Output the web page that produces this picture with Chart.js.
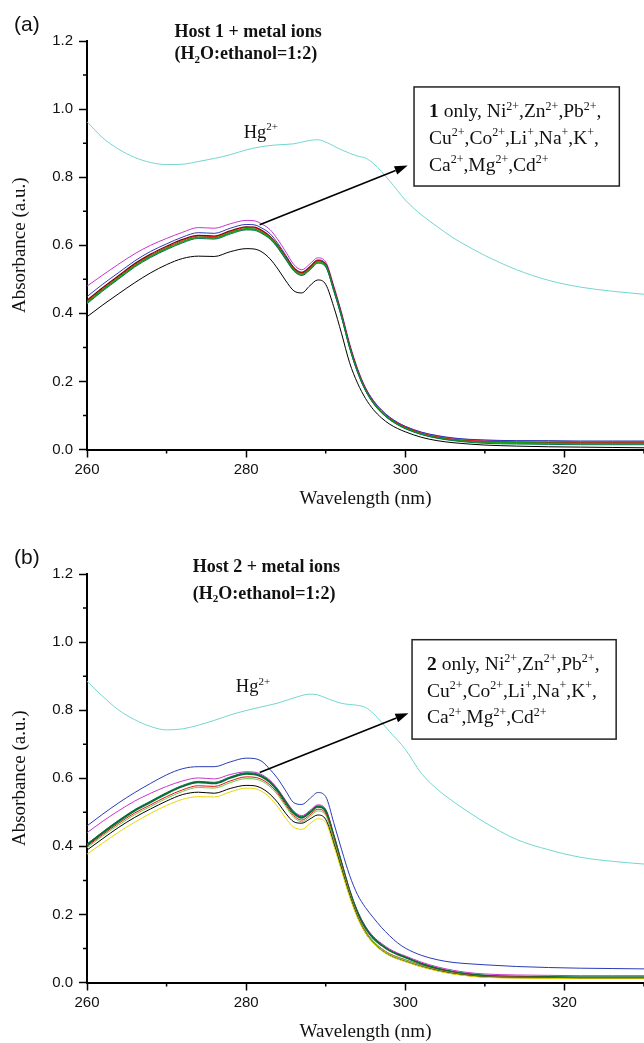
<!DOCTYPE html>
<html>
<head>
<meta charset="utf-8">
<script src="https://cdn.jsdelivr.net/npm/chart.js@4.4.1/dist/chart.umd.min.js"></script>
<style>
  html, body { margin: 0; padding: 0; background: #fff; overflow: hidden; width: 644px; height: 1043px; }
  canvas { position: absolute; left: 0; }
</style>
</head>
<body>
<canvas id="chartA" width="644" height="510" style="top:0px"></canvas>
<canvas id="chartB" width="644" height="510" style="top:533px"></canvas>
<script>
// ---------- DATA ----------
const wavelengths = [260,262,264,266,268,270,272,274,276,278,280,281,282,283,284,285,286,287,288,289,290,291,292,293,294,295,296,297,298,299,300,302,304,306,308,310,314,318,322,326,330];
const hgWavelengths = [260,262,264,266,268,270,272,274,276,278,280,282,284,286,288,289,290,292,294,295,296,298,300,302,304,306,308,310,314,318,322,326,330];

// Panel (a): Host 1
const hgA      = [0.963,0.915,0.882,0.858,0.843,0.837,0.838,0.846,0.855,0.866,0.880,0.890,0.895,0.898,0.908,0.910,0.903,0.880,0.862,0.856,0.840,0.790,0.733,0.690,0.655,0.622,0.595,0.570,0.528,0.497,0.477,0.465,0.456];
const magentaA = [0.480,0.513,0.545,0.575,0.600,0.620,0.638,0.652,0.650,0.663,0.673,0.672,0.662,0.646,0.616,0.580,0.543,0.528,0.545,0.563,0.551,0.482,0.402,0.312,0.238,0.182,0.144,0.117,0.096,0.080,0.068,0.051,0.040,0.033,0.029,0.027,0.025,0.024,0.023,0.023,0.023];
const blueA    = [0.449,0.486,0.520,0.554,0.582,0.604,0.624,0.637,0.635,0.650,0.661,0.660,0.650,0.634,0.605,0.570,0.535,0.521,0.538,0.557,0.546,0.477,0.397,0.307,0.235,0.180,0.143,0.116,0.095,0.080,0.068,0.051,0.041,0.034,0.030,0.028,0.026,0.026,0.025,0.025,0.025];
const redA     = [0.435,0.473,0.508,0.543,0.571,0.594,0.614,0.627,0.625,0.640,0.652,0.651,0.641,0.625,0.598,0.564,0.531,0.518,0.534,0.554,0.543,0.473,0.393,0.303,0.231,0.177,0.139,0.112,0.092,0.077,0.065,0.048,0.037,0.030,0.026,0.024,0.022,0.021,0.020,0.020,0.020];
const darkRedA = [0.438,0.476,0.511,0.546,0.574,0.597,0.617,0.629,0.627,0.642,0.654,0.653,0.643,0.626,0.599,0.565,0.532,0.519,0.535,0.555,0.544,0.474,0.394,0.304,0.231,0.176,0.138,0.111,0.091,0.076,0.064,0.047,0.036,0.029,0.025,0.023,0.021,0.020,0.019,0.019,0.019];
const greenA   = [0.432,0.470,0.505,0.540,0.568,0.591,0.611,0.624,0.622,0.637,0.649,0.648,0.638,0.622,0.595,0.561,0.528,0.515,0.531,0.551,0.540,0.470,0.390,0.300,0.228,0.174,0.137,0.110,0.090,0.075,0.063,0.046,0.035,0.028,0.024,0.022,0.020,0.019,0.018,0.018,0.018];
const tealA    = [0.428,0.466,0.501,0.536,0.564,0.587,0.607,0.620,0.618,0.633,0.645,0.644,0.634,0.618,0.591,0.557,0.524,0.511,0.527,0.547,0.536,0.467,0.388,0.299,0.227,0.173,0.135,0.108,0.088,0.073,0.061,0.044,0.033,0.026,0.021,0.018,0.016,0.015,0.014,0.014,0.014];
const oliveA   = [0.430,0.468,0.503,0.538,0.566,0.589,0.609,0.622,0.620,0.635,0.647,0.646,0.636,0.620,0.593,0.559,0.526,0.513,0.529,0.549,0.538,0.468,0.389,0.300,0.228,0.174,0.136,0.109,0.089,0.074,0.062,0.045,0.034,0.027,0.023,0.020,0.018,0.017,0.016,0.016,0.016];
const blackA   = [0.390,0.425,0.458,0.490,0.519,0.543,0.561,0.568,0.567,0.581,0.590,0.589,0.580,0.560,0.530,0.495,0.466,0.460,0.481,0.498,0.485,0.420,0.340,0.255,0.195,0.150,0.117,0.093,0.075,0.062,0.052,0.036,0.026,0.020,0.016,0.013,0.010,0.008,0.007,0.006,0.005];

// Panel (b): Host 2
const hgB        = [0.885,0.840,0.800,0.772,0.752,0.742,0.745,0.756,0.770,0.786,0.799,0.810,0.821,0.836,0.847,0.845,0.836,0.820,0.814,0.808,0.790,0.738,0.685,0.615,0.568,0.532,0.500,0.470,0.420,0.390,0.368,0.356,0.348];
const blueB      = [0.460,0.495,0.528,0.558,0.585,0.610,0.628,0.634,0.634,0.648,0.659,0.658,0.649,0.626,0.598,0.562,0.528,0.523,0.540,0.558,0.546,0.470,0.390,0.315,0.258,0.220,0.190,0.162,0.138,0.117,0.101,0.080,0.067,0.059,0.055,0.052,0.047,0.044,0.042,0.041,0.040];
const magentaB   = [0.440,0.474,0.505,0.533,0.556,0.576,0.592,0.601,0.598,0.611,0.619,0.618,0.610,0.594,0.568,0.534,0.503,0.490,0.505,0.522,0.509,0.436,0.354,0.274,0.210,0.165,0.135,0.115,0.099,0.087,0.078,0.060,0.046,0.036,0.029,0.025,0.022,0.021,0.020,0.020,0.020];
const tealB      = [0.407,0.443,0.477,0.508,0.533,0.558,0.579,0.591,0.588,0.604,0.616,0.615,0.607,0.591,0.565,0.531,0.500,0.487,0.502,0.519,0.506,0.433,0.351,0.270,0.207,0.162,0.131,0.111,0.095,0.084,0.075,0.056,0.042,0.032,0.025,0.021,0.018,0.017,0.016,0.016,0.016];
const darkGreenB = [0.404,0.440,0.474,0.505,0.530,0.555,0.576,0.588,0.585,0.601,0.613,0.612,0.604,0.588,0.562,0.528,0.497,0.484,0.499,0.516,0.503,0.430,0.348,0.268,0.205,0.160,0.130,0.110,0.094,0.083,0.074,0.055,0.041,0.031,0.024,0.020,0.017,0.016,0.015,0.015,0.015];
const redB       = [0.400,0.435,0.468,0.498,0.522,0.546,0.566,0.578,0.576,0.592,0.604,0.603,0.596,0.580,0.555,0.521,0.490,0.477,0.492,0.509,0.496,0.424,0.343,0.264,0.198,0.151,0.121,0.100,0.085,0.075,0.067,0.051,0.038,0.029,0.022,0.018,0.016,0.015,0.014,0.014,0.014];
const lightGreenB= [0.396,0.431,0.463,0.493,0.517,0.541,0.561,0.573,0.571,0.587,0.599,0.598,0.591,0.575,0.550,0.516,0.485,0.472,0.487,0.504,0.491,0.420,0.340,0.262,0.197,0.150,0.120,0.099,0.084,0.074,0.066,0.050,0.037,0.028,0.021,0.017,0.015,0.014,0.013,0.013,0.013];
const blackB     = [0.389,0.423,0.456,0.485,0.510,0.533,0.552,0.559,0.556,0.570,0.579,0.578,0.570,0.553,0.528,0.496,0.472,0.468,0.480,0.492,0.479,0.410,0.332,0.256,0.192,0.146,0.116,0.095,0.080,0.070,0.062,0.047,0.035,0.026,0.020,0.016,0.014,0.013,0.012,0.012,0.012];
const yellowB    = [0.377,0.410,0.442,0.471,0.497,0.520,0.538,0.546,0.545,0.560,0.571,0.570,0.561,0.543,0.515,0.482,0.456,0.450,0.466,0.481,0.470,0.403,0.327,0.252,0.190,0.145,0.115,0.094,0.079,0.069,0.061,0.046,0.034,0.025,0.019,0.015,0.013,0.012,0.011,0.011,0.011];

// Axis ticks
const xMajorTicks = [260, 280, 300, 320];
const xMinorTicks = [270, 290, 310, 330];
const yMinorTicks = [0.1, 0.3, 0.5, 0.7, 0.9, 1.1];

// ---------- BUILD ----------
const SERIF = '"Liberation Serif", "Times New Roman", serif';
const SANS = '"Liberation Sans", Arial, sans-serif';

function pts(xs, ys) { return xs.map((x, i) => ({ x: x, y: ys[i] })); }
function ds(xs, ys, color, w) {
  return { data: pts(xs, ys), borderColor: color, borderWidth: w || 1, pointRadius: 0, fill: false, cubicInterpolationMode: 'monotone' };
}

function sup(t) { return { t: t, sup: true }; }
function bold(t) { return { t: t, b: true }; }
function txt(t) { return { t: t }; }

function drawRich(ctx, segs, x, y, size) {
  let cx = x;
  segs.forEach(s => {
    const small = s.sup || s.sub;
    const fs = small ? Math.round(size * 0.62) : size;
    ctx.font = (s.b ? 'bold ' : '') + fs + 'px ' + SERIF;
    const dy = s.sup ? -size * 0.40 : (s.sub ? size * 0.22 : 0);
    ctx.fillText(s.t, cx, y + dy);
    cx += ctx.measureText(s.t).width;
  });
  return cx;
}

function annotPlugin(cfg) {
  return {
    id: 'annot',
    afterDraw(chart) {
      const ctx = chart.ctx;
      const xs = chart.scales.x, ys = chart.scales.y;
      const area = chart.chartArea;
      const X = v => xs.getPixelForValue(v);
      const Y = v => ys.getPixelForValue(v);
      ctx.save();
      // minor ticks
      ctx.strokeStyle = '#000';
      ctx.lineWidth = 1.5;
      ctx.beginPath();
      xMinorTicks.forEach(v => { const p = X(v); ctx.moveTo(p, area.bottom); ctx.lineTo(p, area.bottom + 4); });
      yMinorTicks.forEach(v => { const p = Y(v); ctx.moveTo(area.left - 4, p); ctx.lineTo(area.left, p); });
      ctx.stroke();

      ctx.fillStyle = '#111';
      ctx.textBaseline = 'alphabetic';
      ctx.textAlign = 'left';
      // panel label
      ctx.font = '21px ' + SANS;
      ctx.fillText(cfg.panel, 14, 31);
      // title
      drawRich(ctx, cfg.title1, X(cfg.titleX), Y(cfg.title1Y), 18);
      drawRich(ctx, cfg.title2, X(cfg.titleX), Y(cfg.title2Y), 18);
      // Hg label
      drawRich(ctx, [txt('Hg'), sup('2+')], X(cfg.hgX), Y(cfg.hgY), 18.5);
      // arrow
      const x0 = X(cfg.arrow[0]), y0 = Y(cfg.arrow[1]), x1 = X(cfg.arrow[2]), y1 = Y(cfg.arrow[3]);
      const ang = Math.atan2(y1 - y0, x1 - x0);
      const hl = 13, hw = 4.5;
      ctx.strokeStyle = '#000';
      ctx.lineWidth = 1.6;
      ctx.beginPath();
      ctx.moveTo(x0, y0);
      ctx.lineTo(x1 - hl * Math.cos(ang), y1 - hl * Math.sin(ang));
      ctx.stroke();
      ctx.fillStyle = '#000';
      ctx.beginPath();
      ctx.moveTo(x1, y1);
      ctx.lineTo(x1 - hl * Math.cos(ang) + hw * Math.sin(ang), y1 - hl * Math.sin(ang) - hw * Math.cos(ang));
      ctx.lineTo(x1 - hl * Math.cos(ang) - hw * Math.sin(ang), y1 - hl * Math.sin(ang) + hw * Math.cos(ang));
      ctx.closePath();
      ctx.fill();
      // box
      const bl = X(cfg.box[0]), bt = Y(cfg.box[1]), br = X(cfg.box[2]), bb = Y(cfg.box[3]);
      ctx.fillStyle = '#fff';
      ctx.fillRect(bl, bt, br - bl, bb - bt);
      ctx.strokeStyle = '#222';
      ctx.lineWidth = 1.5;
      ctx.strokeRect(bl, bt, br - bl, bb - bt);
      ctx.fillStyle = '#111';
      cfg.boxLines.forEach((segs, i) => drawRich(ctx, segs, bl + 15, bt + 30.5 + i * 26.6, 19.5));
      ctx.restore();
    }
  };
}

const boxLines2 = [txt('Cu'), sup('2+'), txt(',Co'), sup('2+'), txt(',Li'), sup('+'), txt(',Na'), sup('+'), txt(',K'), sup('+'), txt(',')];
const boxLines3 = [txt('Ca'), sup('2+'), txt(',Mg'), sup('2+'), txt(',Cd'), sup('2+')];

function makeChart(id, datasets, cfg) {
  return new Chart(document.getElementById(id), {
    type: 'line',
    data: { datasets: datasets },
    options: {
      responsive: false,
      animation: false,
      devicePixelRatio: 1,
      layout: { padding: { top: 41, left: 0, right: 0, bottom: 0 } },
      plugins: { legend: { display: false }, tooltip: { enabled: false } },
      scales: {
        x: {
          type: 'linear', min: 260, max: 330,
          afterFit: s => { s.height = 60.5; },
          afterBuildTicks: s => { s.ticks = xMajorTicks.map(v => ({ value: v })); },
          ticks: { padding: 3, color: '#111', font: { family: SANS, size: 15 }, maxRotation: 0, autoSkip: false, callback: v => String(v) },
          grid: { drawOnChartArea: false, drawTicks: true, tickLength: 8, tickWidth: 1.5, tickColor: '#000' },
          border: { display: true, color: '#000', width: 2 },
          title: { display: true, text: 'Wavelength (nm)', color: '#111', font: { family: SERIF, size: 19, lineHeight: 1 }, padding: { top: 0, bottom: 1 } }
        },
        y: {
          min: 0, max: 1.2,
          afterFit: s => { s.width = 87; },
          ticks: { stepSize: 0.2, padding: 6, color: '#111', font: { family: SANS, size: 15 }, callback: v => Number(v).toFixed(1) },
          grid: { drawOnChartArea: false, drawTicks: true, tickLength: 8, tickWidth: 1.5, tickColor: '#000' },
          border: { display: true, color: '#000', width: 2 },
          title: { display: true, text: 'Absorbance (a.u.)', color: '#111', font: { family: SERIF, size: 19, lineHeight: 1 }, padding: { top: 10.5, bottom: 0 } }
        }
      }
    },
    plugins: [annotPlugin(cfg)]
  });
}

makeChart('chartA', [
  ds(hgWavelengths, hgA, '#72d6d0'),
  ds(wavelengths, blackA, '#000000'),
  ds(wavelengths, tealA, '#007a55'),
  ds(wavelengths, greenA, '#13a013', 1.3),
  ds(wavelengths, oliveA, '#8a8a00'),
  ds(wavelengths, redA, '#e01010'),
  ds(wavelengths, darkRedA, '#7a0000', 1.3),
  ds(wavelengths, blueA, '#2a3ab8'),
  ds(wavelengths, magentaA, '#cc33cc')
], {
  panel: '(a)',
  titleX: 271.0, title1Y: 1.212, title2Y: 1.148,
  title1: [bold('Host 1 + metal ions')],
  title2: [bold('(H'), { t: '2', b: true, sub: true }, bold('O:ethanol=1:2)')],
  hgX: 279.7, hgY: 0.916,
  arrow: [281.7, 0.660, 300.3, 0.834],
  box: [301.1, 1.065, 326.9, 0.774],
  boxLines: [[bold('1'), txt(' only, Ni'), sup('2+'), txt(',Zn'), sup('2+'), txt(',Pb'), sup('2+'), txt(',')], boxLines2, boxLines3]
});

makeChart('chartB', [
  ds(hgWavelengths, hgB, '#72d6d0'),
  ds(wavelengths, yellowB, '#e6d800'),
  ds(wavelengths, blackB, '#000000'),
  ds(wavelengths, lightGreenB, '#66cc44'),
  ds(wavelengths, redB, '#e01010'),
  ds(wavelengths, darkGreenB, '#0d6b35', 2),
  ds(wavelengths, tealB, '#008060'),
  ds(wavelengths, magentaB, '#cc33cc'),
  ds(wavelengths, blueB, '#2a3ab8')
], {
  panel: '(b)',
  titleX: 273.3, title1Y: 1.206, title2Y: 1.128,
  title1: [bold('Host 2 + metal ions')],
  title2: [bold('(H'), { t: '2', b: true, sub: true }, bold('O:ethanol=1:2)')],
  hgX: 278.7, hgY: 0.852,
  arrow: [281.7, 0.617, 300.4, 0.791],
  box: [300.85, 1.007, 326.5, 0.715],
  boxLines: [[bold('2'), txt(' only, Ni'), sup('2+'), txt(',Zn'), sup('2+'), txt(',Pb'), sup('2+'), txt(',')], boxLines2, boxLines3]
});
</script>
</body>
</html>
